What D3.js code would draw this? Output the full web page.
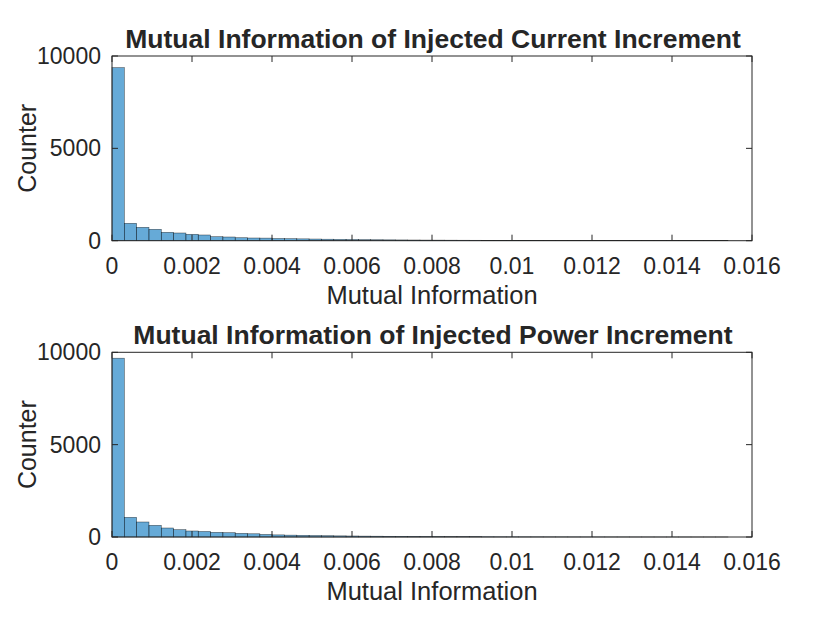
<!DOCTYPE html>
<html><head><meta charset="utf-8">
<script src="https://cdn.jsdelivr.net/npm/d3@7/dist/d3.min.js"></script>
<style>body{margin:0;background:#fff}svg{display:block}text{font-family:"Liberation Sans",Arial,Helvetica,sans-serif;fill:#262626}</style>
</head><body><svg id="c" width="830" height="623"></svg>
<script>
// Histogram data: 50 bins, bin width ~0.000309
const binWidth = 0.0154 / 50;
const currentCounts = [9370, 942, 725, 617, 455, 417, 347, 309, 217, 200, 162, 146, 140, 120, 110, 100, 90, 80, 72, 65, 58, 52, 47, 42, 38, 34, 31, 28, 25, 23, 21, 19, 17, 15, 14, 13, 12, 11, 10, 9, 8, 7, 7, 6, 5, 5, 4, 4, 3, 3];
const powerCounts = [9680, 1066, 812, 632, 487, 397, 325, 300, 253, 235, 198, 175, 140, 115, 100, 90, 80, 70, 62, 55, 48, 43, 38, 34, 30, 27, 24, 21, 19, 17, 15, 13, 12, 11, 10, 9, 8, 7, 6, 6, 5, 5, 4, 4, 3, 3, 3, 2, 2, 2];
const xTicks = [0, 0.002, 0.004, 0.006, 0.008, 0.01, 0.012, 0.014, 0.016];
const yTicks = [0, 5000, 10000];
const titles = ["Mutual Information of Injected Current Increment", "Mutual Information of Injected Power Increment"];
const xLabel = "Mutual Information";
const yLabel = "Counter";

const svg = d3.select("#c");
const L = 112, R = 752, H = 184.7;
const tops = [56, 352.3];
const x = d3.scaleLinear().domain([0, 0.016]).range([L, R]);

function panel(counts, top, title) {
  const bottom = top + H;
  const y = d3.scaleLinear().domain([0, 10000]).range([bottom, top]);
  const g = svg.append("g");
  const bins = counts.map((c, i) => ({x0: i * binWidth, x1: (i + 1) * binWidth, c}));
  g.selectAll("rect").data(bins).enter().append("rect")
    .attr("x", d => x(d.x0)).attr("width", d => x(d.x1) - x(d.x0))
    .attr("y", d => y(d.c)).attr("height", d => bottom - y(d.c))
    .attr("fill", "#0072BD").attr("fill-opacity", 0.6)
    .attr("stroke", "#000").attr("stroke-opacity", 0.6).attr("stroke-width", 0.6);
  const tl = 6;
  const ax = g.append("g").attr("stroke", "#262626").attr("stroke-width", 1).attr("fill", "none");
  ax.append("rect").attr("x", L).attr("y", top).attr("width", R - L).attr("height", H).attr("stroke", "#262626");
  xTicks.forEach(t => {
    ax.append("line").attr("x1", x(t)).attr("x2", x(t)).attr("y1", bottom).attr("y2", bottom - tl);
    ax.append("line").attr("x1", x(t)).attr("x2", x(t)).attr("y1", top).attr("y2", top + tl);
  });
  yTicks.forEach(t => {
    ax.append("line").attr("x1", L).attr("x2", L + tl).attr("y1", y(t)).attr("y2", y(t));
    ax.append("line").attr("x1", R).attr("x2", R - tl).attr("y1", y(t)).attr("y2", y(t));
  });
  g.selectAll(".xt").data(xTicks).enter().append("text")
    .attr("x", d => x(d)).attr("y", bottom + 33).attr("text-anchor", "middle")
    .attr("font-size", 23).text(d => d === 0 ? "0" : String(+d.toFixed(3)));
  g.selectAll(".yt").data(yTicks).enter().append("text")
    .attr("x", L - 11).attr("y", d => y(d) + 8).attr("text-anchor", "end")
    .attr("font-size", 23).text(d => String(d));
  g.append("text").attr("x", (L + R) / 2).attr("y", bottom + 63).attr("text-anchor", "middle")
    .attr("font-size", 25.5).text(xLabel);
  g.append("text").attr("transform", `translate(36,${top + H / 2}) rotate(-90)`).attr("text-anchor", "middle")
    .attr("font-size", 25).text(yLabel);
  g.append("text").attr("x", (L + R) / 2 + 1).attr("y", top - 8).attr("text-anchor", "middle")
    .attr("font-size", 26.5).attr("font-weight", "bold").attr("fill", "#000").text(title);
}
panel(currentCounts, tops[0], titles[0]);
panel(powerCounts, tops[1], titles[1]);
</script></body></html>
